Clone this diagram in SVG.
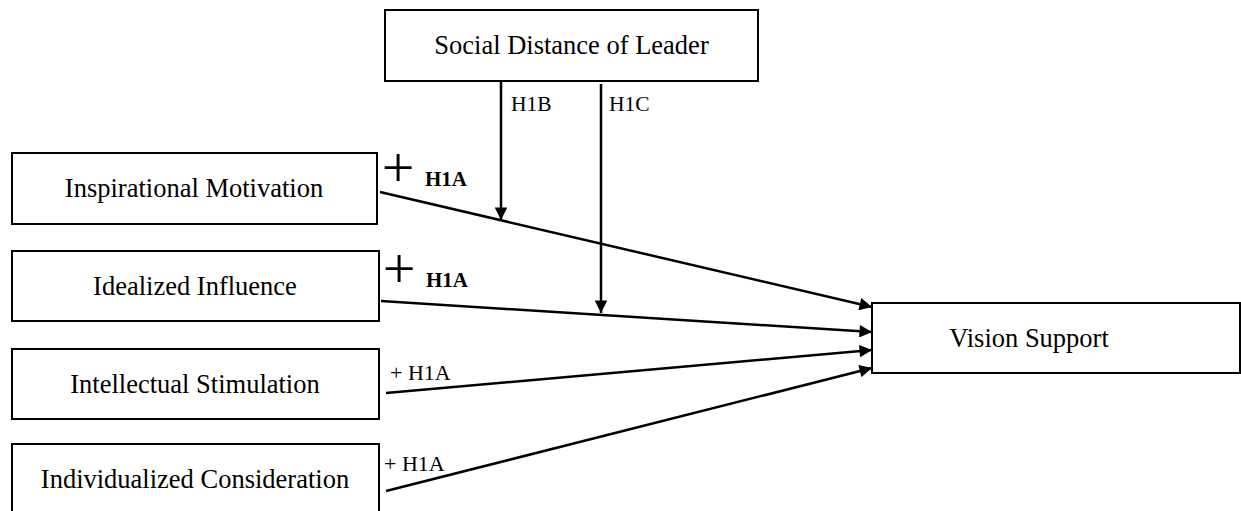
<svg xmlns="http://www.w3.org/2000/svg" width="1241" height="511" viewBox="0 0 1241 511">
<defs>
<style>
.box{fill:#fff;stroke:#000;stroke-width:2}
.t{font-family:"Liberation Serif","Times New Roman",serif;font-size:26.5px;fill:#000;text-anchor:middle}
.s{font-family:"Liberation Serif","Times New Roman",serif;font-size:21.5px;fill:#000}
.s2{font-family:"Liberation Serif","Times New Roman",serif;font-size:22px;fill:#000}
.b{font-family:"Liberation Serif","Times New Roman",serif;font-size:21px;font-weight:bold;fill:#000}
.p{font-family:"Liberation Serif","Times New Roman",serif;font-size:58px;fill:#000;text-anchor:middle}
.ln{stroke:#000;stroke-width:2.5;fill:none;marker-end:url(#ah)}
</style>
<marker id="ah" viewBox="0 0 10 10" refX="10" refY="5" markerWidth="5.5" markerHeight="5" orient="auto" markerUnits="strokeWidth">
<path d="M0,0 L10,5 L0,10 z" fill="#000"/>
</marker>
</defs>
<rect width="1241" height="511" fill="#fff"/>
<g id="social-distance">
<rect class="box" x="385" y="10" width="373" height="71"/>
<text class="t" x="571.5" y="54">Social Distance of Leader</text>
</g>
<g id="inspirational-motivation">
<rect class="box" x="12" y="153" width="365" height="71"/>
<text class="t" x="194" y="197">Inspirational Motivation</text>
</g>
<g id="idealized-influence">
<rect class="box" x="12" y="251" width="367" height="70"/>
<text class="t" x="195" y="295">Idealized Influence</text>
</g>
<g id="intellectual-stimulation">
<rect class="box" x="12" y="349" width="367" height="70"/>
<text class="t" x="195" y="393">Intellectual Stimulation</text>
</g>
<g id="individualized-consideration">
<rect class="box" x="12" y="444" width="367" height="72"/>
<text class="t" x="195" y="488">Individualized Consideration</text>
</g>
<g id="vision-support">
<rect class="box" x="872" y="303" width="368" height="70"/>
<text class="t" x="1029" y="347">Vision Support</text>
</g>
<g id="connectors">
<line class="ln" x1="380" y1="192" x2="872" y2="307"/>
<line class="ln" x1="381" y1="301" x2="872" y2="332"/>
<line class="ln" x1="386" y1="393" x2="872" y2="350"/>
<line class="ln" x1="386" y1="491" x2="872" y2="368"/>
<line class="ln" x1="501" y1="81" x2="501" y2="220"/>
<line class="ln" x1="601" y1="84" x2="601" y2="313"/>
</g>
<g id="labels">
<text class="p" x="398" y="187">+</text>
<text class="b" x="425" y="186">H1A</text>
<text class="p" x="399" y="288">+</text>
<text class="b" x="426" y="287">H1A</text>
<text class="s2" x="390" y="380">+ H1A</text>
<text class="s2" x="384" y="471">+ H1A</text>
<text class="s" x="511" y="111">H1B</text>
<text class="s" x="609" y="111">H1C</text>
</g>
</svg>
